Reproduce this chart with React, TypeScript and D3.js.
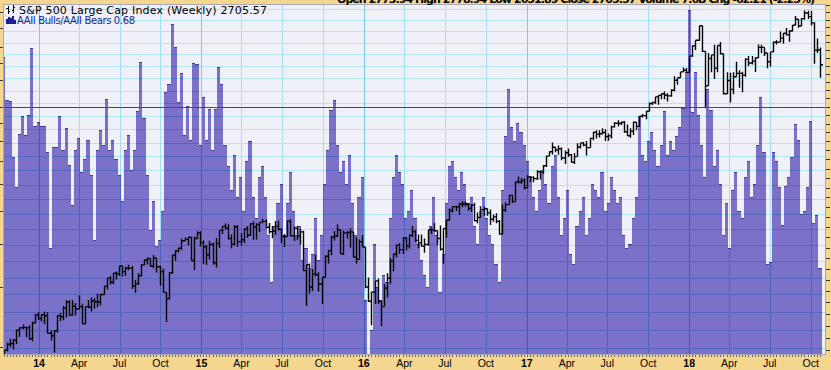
import React, { useEffect } from 'react';
import * as d3 from 'd3';

const W = 831;
const H = 370;
const PL = 3, PR = 826, PT = 4, PB = 355;

// weekly bars, dated by the Monday of each week
const weeks: Date[] = d3.timeMonday.range(new Date(2013, 9, 14), new Date(2018, 9, 23));

const firstOpen = 1703;
const closes = [
  1744, 1760, 1762, 1771, 1798, 1805, 1806, 1805, 1775, 1818, 1841,
  1831, 1842, 1839, 1790, 1783, 1797, 1839, 1836, 1860, 1878, 1841, 1866, 1858, 1865, 1816, 1865, 1863, 1881, 1879, 1878, 1900, 1924, 1949, 1936, 1963, 1961, 1985, 1968, 1978, 1978, 1925, 1932, 1955, 1988, 2003, 2008, 1985, 2010, 1983, 1968, 1906, 1887, 1965, 2018, 2032, 2040, 2064, 2068, 2075, 2002, 2071, 2089,
  2058, 2045, 2019, 2052, 1995, 2055, 2097, 2110, 2104, 2071, 2053, 2108, 2061, 2067, 2102, 2081, 2118, 2108, 2116, 2123, 2126, 2107, 2093, 2094, 2110, 2101, 2077, 2077, 2127, 2080, 2104, 2078, 2092, 1971, 1989, 1921, 1961, 1958, 1931, 1951, 2015, 2033, 2075, 2079, 2099, 2023, 2089, 2090, 2092, 2012, 2006, 2061, 2044,
  1922, 1880, 1907, 1940, 1880, 1865, 1918, 1948, 2000, 2022, 2050, 2036, 2073, 2048, 2081, 2092, 2065, 2057, 2047, 2052, 2099, 2099, 2096, 2071, 2037, 2103, 2130, 2162, 2175, 2174, 2183, 2184, 2184, 2169, 2180, 2128, 2139, 2165, 2168, 2154, 2133, 2141, 2126, 2085, 2164, 2182, 2213, 2192, 2260, 2258, 2264, 2239,
  2277, 2275, 2271, 2295, 2297, 2316, 2351, 2367, 2383, 2373, 2378, 2344, 2363, 2356, 2329, 2349, 2384, 2399, 2391, 2382, 2416, 2439, 2432, 2433, 2438, 2423, 2425, 2459, 2473, 2472, 2477, 2441, 2426, 2443, 2477, 2461, 2500, 2502, 2519, 2549, 2553, 2575, 2581, 2588, 2582, 2579, 2602, 2642, 2652, 2676, 2683, 2674,
  2743, 2786, 2810, 2873, 2762, 2620, 2732, 2747, 2691, 2787, 2752, 2588, 2641, 2605, 2656, 2670, 2670, 2663, 2728, 2713, 2721, 2735, 2779, 2779, 2755, 2718, 2760, 2801, 2802, 2819, 2840, 2833, 2850, 2875, 2902, 2872, 2905, 2930, 2914, 2886, 2767, 2768, 2706,
];
const highs = [
  1745, 1764, 1775, 1774, 1799, 1806, 1814, 1806, 1812, 1823, 1844,
  1849, 1843, 1850, 1849, 1798, 1798, 1841, 1847, 1867, 1884, 1883, 1884, 1875, 1897, 1873, 1865, 1884, 1891, 1889, 1902, 1901, 1924, 1949, 1955, 1964, 1968, 1985, 1983, 1983, 1989, 1985, 1943, 1964, 1991, 2006, 2011, 2007, 2019, 2010, 1986, 1977, 1906, 1966, 2019, 2034, 2042, 2071, 2075, 2076, 2075, 2077, 2094,
  2094, 2065, 2050, 2064, 2058, 2072, 2097, 2110, 2119, 2117, 2084, 2114, 2114, 2089, 2102, 2111, 2120, 2126, 2120, 2123, 2135, 2133, 2121, 2111, 2127, 2129, 2099, 2085, 2129, 2133, 2111, 2112, 2102, 2096, 1989, 1993, 1976, 2021, 1966, 1952, 2017, 2033, 2080, 2094, 2116, 2093, 2097, 2095, 2104, 2091, 2076, 2068, 2082,
  2038, 1950, 1908, 1940, 1947, 1881, 1930, 1963, 2009, 2023, 2052, 2056, 2075, 2075, 2084, 2111, 2099, 2084, 2084, 2071, 2099, 2106, 2121, 2097, 2113, 2103, 2132, 2169, 2176, 2178, 2188, 2194, 2193, 2187, 2184, 2188, 2155, 2176, 2175, 2169, 2165, 2149, 2153, 2131, 2183, 2190, 2214, 2214, 2260, 2278, 2273, 2272,
  2283, 2280, 2279, 2301, 2299, 2319, 2352, 2368, 2401, 2383, 2390, 2382, 2371, 2379, 2358, 2362, 2398, 2400, 2403, 2406, 2418, 2441, 2446, 2446, 2454, 2450, 2434, 2463, 2478, 2484, 2480, 2481, 2468, 2454, 2480, 2472, 2500, 2508, 2520, 2553, 2556, 2576, 2582, 2588, 2597, 2590, 2606, 2658, 2652, 2676, 2695, 2692,
  2743, 2787, 2810, 2873, 2871, 2763, 2755, 2747, 2790, 2787, 2802, 2752, 2675, 2673, 2675, 2718, 2683, 2677, 2733, 2742, 2742, 2736, 2791, 2790, 2774, 2753, 2760, 2804, 2810, 2848, 2841, 2863, 2855, 2877, 2916, 2901, 2908, 2941, 2940, 2939, 2889, 2817, 2779,
];
const lows = [
  1692, 1740, 1752, 1746, 1760, 1780, 1800, 1779, 1772, 1768, 1819,
  1827, 1823, 1815, 1790, 1770, 1738, 1792, 1824, 1826, 1834, 1839, 1839, 1840, 1857, 1815, 1815, 1860, 1851, 1859, 1863, 1868, 1901, 1915, 1929, 1930, 1944, 1955, 1953, 1955, 1972, 1916, 1905, 1928, 1953, 1988, 1990, 1982, 1978, 1965, 1926, 1906, 1821, 1886, 1961, 2001, 2027, 2034, 2064, 2049, 2002, 1973, 2069,
  2046, 1992, 1988, 2005, 1989, 1981, 2041, 2085, 2100, 2068, 2040, 2049, 2045, 2049, 2057, 2073, 2080, 2067, 2068, 2092, 2120, 2104, 2086, 2072, 2082, 2097, 2056, 2044, 2077, 2078, 2063, 2067, 2052, 1970, 1867, 1903, 1910, 1953, 1909, 1872, 1951, 1993, 2018, 2065, 2076, 2022, 2019, 2070, 2042, 2012, 1993, 2005, 2044,
  1918, 1878, 1812, 1872, 1872, 1810, 1871, 1891, 1931, 1969, 2011, 2022, 2022, 2033, 2039, 2075, 2060, 2040, 2045, 2026, 2048, 2085, 2092, 2050, 2033, 1992, 2074, 2128, 2155, 2160, 2148, 2173, 2175, 2160, 2157, 2127, 2120, 2139, 2145, 2145, 2114, 2125, 2120, 2084, 2084, 2157, 2186, 2187, 2193, 2254, 2253, 2234,
  2245, 2258, 2258, 2266, 2268, 2288, 2312, 2352, 2357, 2365, 2356, 2336, 2322, 2348, 2328, 2323, 2375, 2379, 2387, 2353, 2382, 2409, 2415, 2419, 2430, 2406, 2407, 2416, 2457, 2460, 2466, 2437, 2425, 2418, 2428, 2446, 2464, 2495, 2488, 2520, 2543, 2548, 2544, 2566, 2566, 2557, 2576, 2598, 2624, 2652, 2676, 2673,
  2683, 2738, 2768, 2808, 2760, 2533, 2632, 2675, 2647, 2675, 2750, 2585, 2587, 2553, 2586, 2660, 2612, 2594, 2655, 2701, 2707, 2676, 2735, 2755, 2742, 2691, 2699, 2770, 2792, 2802, 2795, 2830, 2803, 2848, 2877, 2864, 2874, 2900, 2903, 2874, 2710, 2755, 2652,
];
// AAII Bulls / AAII Bears ratio, weekly
const ratios = [
  2.80, 2.10, 2.09, 1.43, 1.17, 1.67, 1.89, 1.66, 1.90, 2.98, 1.76,
  1.81, 1.77, 1.77, 1.48, 0.78, 1.53, 1.53, 1.89, 1.50, 1.74,
  1.36, 1.04, 1.50, 1.63, 1.30, 1.41, 1.61, 1.27, 0.82, 1.50,
  1.72, 1.55, 2.12, 1.50, 1.61, 1.41, 1.27, 1.07, 1.50, 1.66,
  1.31, 1.50, 1.95, 2.71, 1.86, 1.27, 0.88, 1.07, 0.79, 0.82,
  1.00, 2.22, 2.34, 3.50, 3.00, 2.07, 2.52, 1.66, 2.02, 1.61,
  2.69, 2.67, 1.55, 2.14, 1.61, 1.98, 1.50, 1.98, 2.62, 2.34,
  1.55, 1.35, 1.15, 1.45, 1.10, 1.25, 1.00, 1.40, 1.60, 1.10,
  0.95, 1.25, 1.35, 1.10, 0.85, 0.62, 0.90, 1.05, 1.20, 0.85,
  1.05, 1.30, 1.00, 0.85, 0.90, 0.72, 0.78, 0.68, 0.75, 0.95,
  0.72, 0.85, 1.20, 1.50, 1.96, 2.10, 1.55, 1.30, 1.40, 1.20,
  1.45, 1.05, 0.85, 1.10, 1.25, 0.55, 0.38, 0.45, 0.80, 0.60,
  0.55, 0.65, 0.62, 0.95, 1.25, 1.45, 1.30, 1.20, 0.95, 1.00,
  1.15, 0.95, 0.80, 0.72, 0.65, 0.60, 0.90, 1.10, 0.85, 0.58,
  0.75, 1.05, 1.35, 1.40, 1.25, 1.15, 1.30, 1.20, 1.05, 1.10,
  0.90, 0.80, 1.00, 1.10, 0.95, 0.85, 0.80, 0.70, 0.62, 1.15,
  1.65, 2.26, 1.75, 1.60, 1.80, 1.70, 1.55, 1.40, 1.25, 1.10,
  1.00, 1.15, 1.30, 1.20, 1.05, 1.35, 1.45, 1.10, 0.85, 0.95,
  1.15, 0.75, 0.70, 0.90, 1.00, 1.10, 0.85, 0.95, 1.20, 1.15,
  1.10, 1.30, 1.00, 1.05, 1.25, 1.15, 1.05, 1.10, 0.85, 0.78,
  0.80, 0.95, 1.10, 1.89, 1.45, 1.40, 1.60, 1.70, 1.50, 1.35,
  1.55, 1.95, 1.45, 1.60, 1.50, 1.65, 1.75, 1.99, 2.53, 3.84,
  1.94, 2.53, 1.90, 1.55, 1.25, 2.26, 1.96, 1.35, 1.50, 1.20,
  0.85, 1.05, 0.78, 1.15, 1.30, 1.00, 0.95, 1.25, 1.40, 1.10,
  1.20, 1.55, 2.14, 1.48, 0.70, 0.71, 1.48, 1.40, 1.17, 0.91,
  1.18, 1.25, 1.43, 1.79, 1.61, 0.98, 1.00, 1.17, 1.83, 0.92, 0.97, 0.68,
];

const quarterLabels = ['14', 'Apr', 'Jul', 'Oct', '15', 'Apr', 'Jul', 'Oct', '16', 'Apr', 'Jul', 'Oct', '17', 'Apr', 'Jul', 'Oct', '18', 'Apr', 'Jul', 'Oct'];
const priceGrid = d3.range(1750, 2951, 50);
const priceTicks = d3.range(1745, 2975, 33);
const ratioTicks = [0.4, 0.6, 0.8, 1.0, 1.2, 1.4, 1.6, 1.8, 2.0, 2.4, 2.7, 3.0, 3.4, 3.8];
const signalLevel = 2.0;

const titleText = 'S&P 500 Large Cap Index (Weekly) 2705.57';
const legendText = 'AAII Bulls/AAII Bears 0.68';
const headerText = 'Open 2773.94  High 2778.94  Low 2651.89  Close 2705.57  Volume 7.6B  Chg -62.21 (-2.25%)';

export default function App() {
  useEffect(() => {
    document.body.style.margin = '0';
  }, []);

  const x = d3.scaleTime().domain([new Date(2014, 0, 1), new Date(2018, 0, 1)]).range([39, 689.2]);
  const yR = d3.scaleLog().domain([0.38, 4.0]).range([PB, PT]);
  const yP = d3.scaleLog().domain([1731, 2971]).range([PB, PT]);
  const quarters = d3.timeMonth.every(3)!.range(new Date(2014, 0, 1), new Date(2018, 11, 1));
  const opens = [firstOpen, ...closes.slice(0, -1)];

  const bars = weeks.map((d, i) => {
    const x0 = Math.round(x(d3.timeHour.offset(d, -84)));
    const x1 = Math.round(x(d3.timeHour.offset(d, 84)));
    const yt = Math.round(yR(ratios[i]));
    return { x0, x1, yt };
  });

  const pricePath = weeks
    .map((d, i) => {
      const cx = Math.round(x(d)) + 0.5;
      const o = yP(opens[i]);
      const c = yP(closes[i]);
      const hi = Math.min(yP(highs[i]), o, c);
      const lo = Math.max(yP(lows[i]), o, c);
      return `M${cx},${hi.toFixed(1)}V${lo.toFixed(1)}M${cx - 2.5},${o.toFixed(1)}H${cx}M${cx},${c.toFixed(1)}H${cx + 2.5}`;
    })
    .join('');

  return (
    <svg width={W} height={H} style={{ position: 'absolute', left: 0, top: 0, display: 'block' }}>
      <defs>
        <clipPath id="plot">
          <rect x={PL} y={PT} width={PR - PL} height={PB - PT} />
        </clipPath>
      </defs>
      <rect x={0} y={0} width={W} height={H} fill="#f5d68e" />
      <rect x={PL} y={PT} width={PR - PL} height={PB - PT} fill="#f0f0f8" />

      <g clipPath="url(#plot)">
        <g shapeRendering="crispEdges">
          {bars.map((b, i) => (
            <rect key={'b' + i} x={b.x0} y={b.yt} width={b.x1 - b.x0} height={Math.max(0, PB - b.yt)} fill="#7b71c8" />
          ))}
          {bars.map((b, i) => (
            b.yt < PB ? <rect key={'c' + i} x={b.x0} y={b.yt} width={b.x1 - b.x0} height={1} fill="#473b9a" /> : null
          ))}
        </g>
        <g style={{ mixBlendMode: 'multiply' }} shapeRendering="crispEdges">
          {priceGrid.map((p) => (
            <line key={'h' + p} x1={PL} x2={PR} y1={Math.round(yP(p)) + 0.5} y2={Math.round(yP(p)) + 0.5} stroke="#b2e6f4" strokeWidth={1} />
          ))}
          {quarters.map((q, i) => (
            <line key={'v' + i} x1={Math.round(x(q)) + 0.5} x2={Math.round(x(q)) + 0.5} y1={PT} y2={PB}
              stroke={q.getMonth() === 0 ? '#7ec9ee' : '#a4def2'} strokeWidth={1} />
          ))}
        </g>
        <line x1={PL} x2={PR} y1={Math.round(yR(signalLevel)) + 0.5} y2={Math.round(yR(signalLevel)) + 0.5} stroke="#c8142a" strokeWidth={1} />
        <path d={pricePath} fill="none" stroke="#000" strokeWidth={1.4} />
      </g>

      <rect x={PL + 0.5} y={PT + 0.5} width={PR - PL - 1} height={PB - PT - 1} fill="none" stroke="#a8a8b8" strokeWidth={1} />

      {/* axis ticks */}
      <g stroke="#333" strokeWidth={1} shapeRendering="crispEdges">
        {ratioTicks.map((t) => (
          <line key={'lt' + t} x1={0} x2={3} y1={Math.round(yR(t)) + 0.5} y2={Math.round(yR(t)) + 0.5} />
        ))}
        {priceTicks.map((t) => (
          <line key={'rt' + t} x1={826} x2={830} y1={Math.round(yP(t)) + 0.5} y2={Math.round(yP(t)) + 0.5} />
        ))}
        {weeks.map((d, i) => (
          <line key={'bt' + i} x1={Math.round(x(d)) + 0.5} x2={Math.round(x(d)) + 0.5} y1={PB} y2={PB + 2} stroke="#666" />
        ))}
      </g>

      {/* bottom labels */}
      <g fontFamily="'Liberation Sans', Arial, sans-serif" fontSize={10.5} fill="#000" textAnchor="middle">
        {quarters.map((q, i) => (
          <text key={'ql' + i} x={x(q)} y={366.5} fontWeight={q.getMonth() === 0 ? 'bold' : 'normal'}>
            {quarterLabels[i]}
          </text>
        ))}
      </g>

      {/* clipped header */}
      <text x={337} y={2.6} fontFamily="'DejaVu Sans', sans-serif" fontWeight="bold" fontSize={11} fill="#000"
        textLength={478} lengthAdjust="spacing">{headerText}</text>

      {/* title line with OHLC icon */}
      <g stroke="#000" strokeWidth={1} shapeRendering="crispEdges">
        <line x1={8.5} x2={8.5} y1={6} y2={14} />
        <line x1={6} x2={8.5} y1={8.5} y2={8.5} />
        <line x1={8.5} x2={10} y1={11.5} y2={11.5} />
        <line x1={13.5} x2={13.5} y1={5} y2={13} />
        <line x1={11.5} x2={13.5} y1={10.5} y2={10.5} />
        <line x1={13.5} x2={15} y1={7.5} y2={7.5} />
      </g>
      <text x={19} y={14} fontFamily="'DejaVu Sans', sans-serif" fontSize={11} fill="#000"
        textLength={248} lengthAdjust="spacing">{titleText}</text>

      {/* legend with histogram icon */}
      <g fill="#1e1e96" shapeRendering="crispEdges">
        <rect x={6} y={19} width={2} height={5} />
        <rect x={8} y={17} width={2} height={7} />
        <rect x={10} y={18} width={2} height={6} />
        <rect x={12} y={16} width={2} height={8} />
        <rect x={14} y={20} width={2} height={4} />
      </g>
      <text x={17} y={24} fontFamily="'DejaVu Sans', sans-serif" fontSize={10} fill="#1e1e96"
        textLength={118} lengthAdjust="spacing">{legendText}</text>
    </svg>
  );
}
